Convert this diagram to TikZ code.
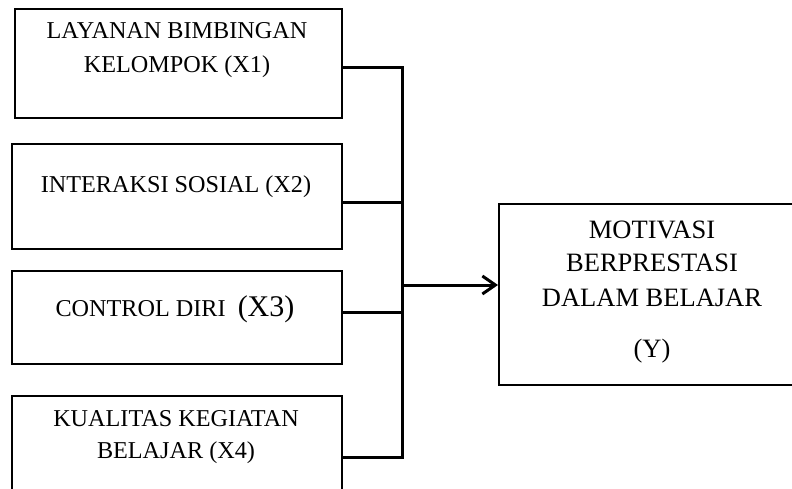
\documentclass[tikz,border=0pt]{standalone}
\usepackage{fontspec}
\setmainfont{Liberation Serif}
\usetikzlibrary{arrows.meta}
\begin{document}
\begin{tikzpicture}[x=1pt,y=-1pt,
  boxnode/.style={draw=black,line width=2pt,rectangle,anchor=north west,inner sep=0pt},
  txt/.style={anchor=base,inner sep=0pt,font=\fontsize{24.2}{34}\selectfont},
  ytxt/.style={anchor=base,inner sep=0pt,font=\fontsize{26.5}{34}\selectfont},
  wire/.style={line width=3pt,line cap=rect},
  arr/.style={line width=3pt,-{Straight Barb[length=13pt,width=18pt,line width=3pt]}}]
\useasboundingbox (0,0) rectangle (792,489);
% boxes
\node[boxnode,minimum width=327pt,minimum height=109pt] (b1) at (14,8) {};
\node[boxnode,minimum width=330pt,minimum height=105pt] (b2) at (11,143) {};
\node[boxnode,minimum width=330pt,minimum height=93pt] (b3) at (11,270) {};
\node[boxnode,minimum width=330pt,minimum height=130pt] (b4) at (11,395) {};
\node[boxnode,minimum width=320pt,minimum height=181pt] (y) at (498,203) {};
% texts
\node[txt] (t1a) at (177,39) {LAYANAN BIMBINGAN};
\node[txt] (t1b) at (177,73) {KELOMPOK (X1)};
\node[txt] (t2) at (176,193) {INTERAKSI SOSIAL (X2)};
\node[txt] (t3) at (175,316) {CONTROL DIRI\ \ {\fontsize{30}{34}\selectfont(X3)}};
\node[txt] (t4a) at (176,426) {KUALITAS KEGIATAN};
\node[txt] (t4b) at (176,458) {BELAJAR (X4)};
\node[ytxt] (ya) at (652,238) {MOTIVASI};
\node[ytxt] (yb) at (652,271) {BERPRESTASI};
\node[ytxt] (yc) at (652,306) {DALAM BELAJAR};
\node[ytxt] (yd) at (652,357) {(Y)};
% junction points
\coordinate (j1) at (402,68);
\coordinate (j2) at (402,203);
\coordinate (j3) at (402,312);
\coordinate (j4) at (402,457);
\coordinate (ja) at (402,285);
% connectors
\draw[wire] (b1.east |- j1) -- (j1) -- (j4) -- (b4.east |- j4);
\draw[wire] (b2.east |- j2) -- (j2);
\draw[wire] (b3.east |- j3) -- (j3);
\draw[arr] (ja) -- (y.west |- ja);
\end{tikzpicture}
\end{document}
